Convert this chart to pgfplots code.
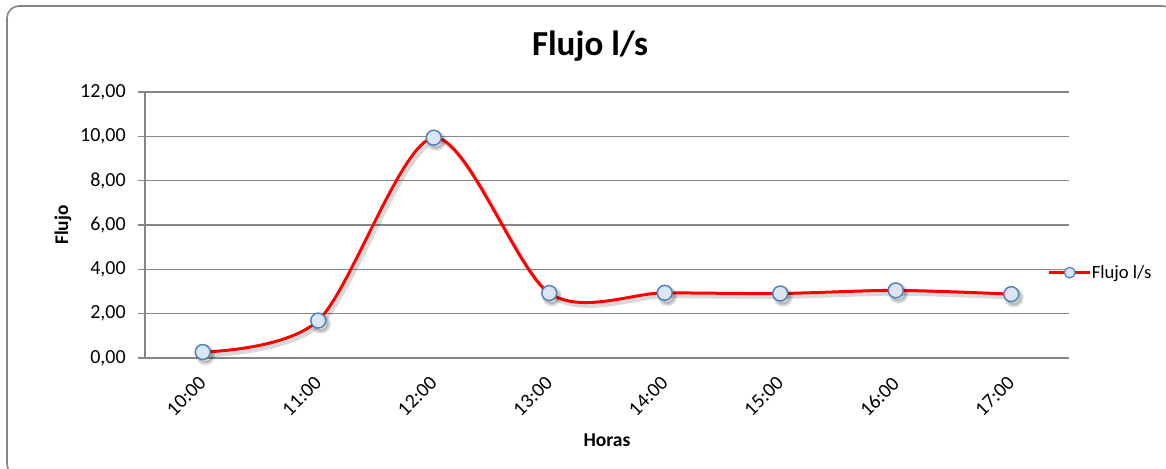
\documentclass[border=0pt]{standalone}
\usepackage{pgfplots}
\pgfplotsset{compat=1.18}
\usepackage{fontspec}
\setmainfont{Carlito}
\definecolor{gridgray}{HTML}{868686}
\definecolor{mfill}{HTML}{DCE6F2}
\definecolor{mdraw}{HTML}{4F81BD}
\begin{document}
\begin{tikzpicture}
\useasboundingbox (0pt,0pt) rectangle (874.5pt,351pt);
\draw[gridgray, line width=1.2pt, rounded corners=9pt] (5.25pt,346.5pt) rectangle (881pt,-6pt);
\node[anchor=base, font=\fontsize{26.3}{30}\selectfont\bfseries] at (442.5pt,309pt) {Flujo l/s};
\begin{axis}[
  at={(108.75pt,82.5pt)}, anchor=south west,
  scale only axis, width=693pt, height=199.5pt,
  xmin=-0.5, xmax=7.5, ymin=0, ymax=12,
  xtick={0,1,2,3,4,5,6,7},
  xticklabels={10:00,11:00,12:00,13:00,14:00,15:00,16:00,17:00},
  ytick={0,2,4,6,8,10,12},
  ymajorgrids, grid style={gridgray, line width=0.9pt},
  axis line style={gridgray, line width=0.9pt},
  axis x line*=bottom, axis y line*=left,
  tick align=outside, major tick length=5.25pt,
  ytick style={gridgray, line width=0.9pt},
  xtick style={draw=none},
  /pgf/number format/assume math mode=true,
  yticklabel={\pgfmathprintnumber[fixed, fixed zerofill, precision=2, use comma]{\tick}},
  ticklabel style={font=\fontsize{15}{18}\selectfont},
  yticklabel style={anchor=east, inner sep=0pt, xshift=-9pt},
  xticklabel style={anchor=north east, inner sep=0pt, xshift=-3.75pt, yshift=-7.5pt, rotate=45},
  every axis x label/.style={at={(axis description cs:0.5,-0.308)}, anchor=center, font=\fontsize{14.7}{17}\selectfont\bfseries},
  every axis y label/.style={at={(axis description cs:0,0.5)}, anchor=center, xshift=-61.5pt, rotate=90, font=\fontsize{14.5}{17}\selectfont\bfseries},
  xlabel={Horas}, ylabel={Flujo},
  clip=false,
  legend style={at={(rel axis cs:0.977,0.321)}, anchor=west, draw=none, fill=none, inner sep=0pt, outer sep=0pt,
    font=\fontsize{14}{17}\selectfont, nodes={inner sep=0pt}, cells={anchor=west}},
  legend image code/.code={
    \draw[red, line width=2.25pt] (0pt,0pt) -- (30.75pt,0pt);
    \draw[mdraw, fill=mfill, line width=0.9pt] (15.4pt,0pt) circle (4pt);
  },
]
\addplot[smooth, black, opacity=0.15, line width=3pt, xshift=2pt, yshift=-2.5pt, mark=*, mark size=5.8pt, mark options={fill=black}, forget plot]
  coordinates {(0,0.27) (1,1.69) (2,9.94) (3,2.93) (4,2.94) (5,2.91) (6,3.05) (7,2.88)};
\addplot[smooth, red, line width=2.25pt, mark=*, mark size=5.6pt, mark options={draw=mdraw, fill=mfill, line width=1.1pt}]
  coordinates {(0,0.27) (1,1.69) (2,9.94) (3,2.93) (4,2.94) (5,2.91) (6,3.05) (7,2.88)};
\addlegendentry{Flujo l/s}
\end{axis}
\end{tikzpicture}
\end{document}
